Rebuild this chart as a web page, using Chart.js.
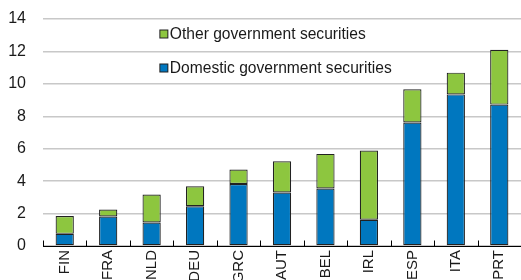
<!DOCTYPE html>
<html><head><meta charset="utf-8">
<script src="https://cdn.jsdelivr.net/npm/chart.js@4/dist/chart.umd.min.js"></script>
<style>html,body{margin:0;padding:0;background:#fff;overflow:hidden}#wrap{width:521px;height:280px}</style>
</head><body><div id="wrap"><canvas id="c" width="521" height="280"></canvas></div>
<script>
const categories = ["FIN","FRA","NLD","DEU","GRC","AUT","BEL","IRL","ESP","ITA","PRT"];
const domestic = [0.75, 1.82, 1.45, 2.45, 3.82, 3.30, 3.55, 1.62, 7.62, 9.35, 8.72];
const other    = [1.10, 0.43, 1.72, 1.23, 0.90, 1.93, 2.13, 4.27, 2.04, 1.34, 3.38];
const yTicks = [0, 2, 4, 6, 8, 10, 12, 14];
const labelDomestic = "Domestic government securities";
const labelOther = "Other government securities";

const FONT = "'Liberation Sans', Arial, sans-serif";

const innerTicks = {
  id: 'innerTicks',
  afterDatasetsDraw(chart) {
    const x = chart.scales.x, y = chart.scales.y, ctx = chart.ctx;
    const y0 = Math.round(y.getPixelForValue(0)) + 0.5;
    ctx.save();
    ctx.strokeStyle = '#000'; ctx.lineWidth = 1;
    const half = (x.getPixelForValue(1) - x.getPixelForValue(0)) / 2;
    for (let i = 0; i <= categories.length; i++) {
      const px = Math.round(x.getPixelForValue(i) - half) + 0.5;
      ctx.beginPath(); ctx.moveTo(px, y0); ctx.lineTo(px, y0 - 6); ctx.stroke();
    }
    ctx.beginPath(); ctx.moveTo(chart.chartArea.left, y0); ctx.lineTo(chart.chartArea.right, y0); ctx.stroke();
    ctx.restore();
  }
};

const innerLegend = {
  id: 'innerLegend',
  afterDraw(chart) {
    const ctx = chart.ctx, y = chart.scales.y, x = chart.scales.x;
    const items = [chart.data.datasets[1], chart.data.datasets[0]];
    const left = x.getPixelForValue(2) + 0.5 * (x.getPixelForValue(3)-x.getPixelForValue(2)) - 14;
    const rows = [13.05, 11.0];
    ctx.save();
    ctx.font = '15.6px ' + FONT;
    ctx.textBaseline = 'middle';
    items.forEach((ds, i) => {
      const cy = Math.round(y.getPixelForValue(rows[i]));
      ctx.fillStyle = '#222';
      ctx.fillRect(left, cy - 4.5, 9, 9);
      ctx.fillStyle = ds.backgroundColor;
      ctx.fillRect(left + 1, cy - 3.5, 7, 7);
      ctx.fillStyle = '#1a1a1a';
      ctx.fillText(ds.label, left + 10.5, cy + 0.5);
    });
    ctx.restore();
  }
};

new Chart(document.getElementById('c'), {
  type: 'bar',
  data: {
    labels: categories,
    datasets: [
      { label: labelDomestic, data: domestic, backgroundColor: '#0077BF', borderColor: '#222222', borderWidth: 1.2, borderSkipped: false, categoryPercentage: 1, barPercentage: 0.42 },
      { label: labelOther, data: other, backgroundColor: '#8DC63F', borderColor: '#222222', borderWidth: 1.2, borderSkipped: false, categoryPercentage: 1, barPercentage: 0.42 }
    ]
  },
  options: {
    responsive: false, animation: false,
    layout: { padding: { top: 19, right: -3, left: 0, bottom: 0 } },
    plugins: { legend: { display: false }, tooltip: { enabled: false } },
    scales: {
      x: {
        stacked: true,
        grid: { display: false, drawTicks: false, tickLength: 0 },
        border: { display: false },
        ticks: { color: '#1a1a1a', font: { family: FONT, size: 15 }, minRotation: 90, maxRotation: 90, padding: 4, autoSkip: false },
        afterFit(s) { s.height = 34; s.paddingLeft = 0; s.paddingRight = 0; s.paddingTop = 0; s.paddingBottom = 0; }
      },
      y: {
        stacked: true, min: 0, max: 14,
        afterBuildTicks(s) { s.ticks = yTicks.map(v => ({ value: v })); },
        grid: { color: '#c8c8c8', lineWidth: 1.5, drawTicks: false },
        border: { display: false },
        ticks: { color: '#1a1a1a', font: { family: FONT, size: 16 }, padding: 17 },
        afterFit(s) { s.width = 43; s.paddingTop = 0; s.paddingBottom = 0; s.paddingLeft = 0; s.paddingRight = 0; }
      }
    }
  },
  plugins: [innerTicks, innerLegend]
});
</script></body></html>
